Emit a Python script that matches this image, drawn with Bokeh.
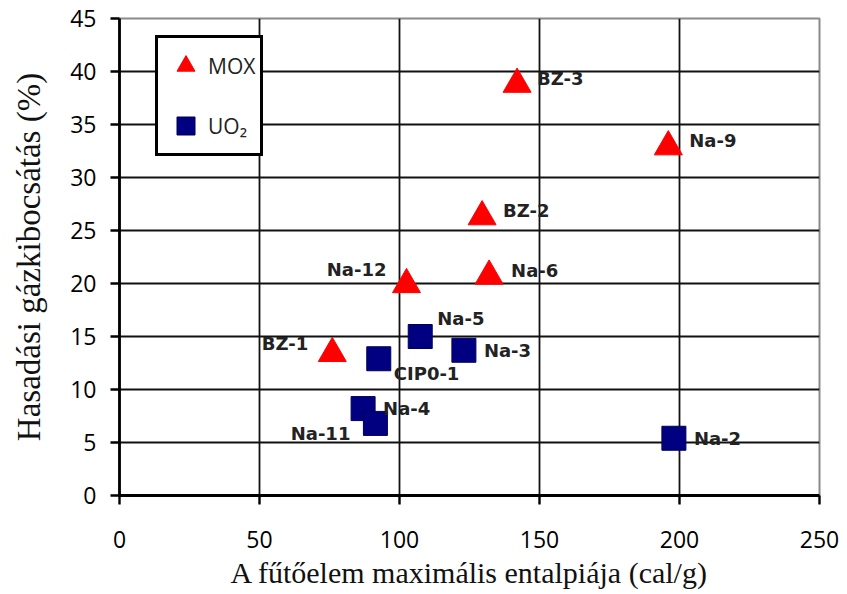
from bokeh.plotting import figure
from bokeh.models import (ColumnDataSource, Legend, LegendItem, FixedTicker,
                          Range1d, CDSView, IndexFilter)
from bokeh.embed import file_html
from bokeh.resources import INLINE
from bokeh.core.properties import value

# ---- data ----
mox_names = ["BZ-1", "Na-12", "BZ-2", "Na-6", "BZ-3", "Na-9"]
mox_enthalpy = [76, 102.5, 129.5, 132, 142, 196]
mox_fgr = [13.4, 19.9, 26.3, 20.7, 38.8, 32.9]

uo2_names = ["CIP0-1", "Na-5", "Na-3", "Na-4", "Na-11", "Na-2"]
uo2_enthalpy = [92.6, 107.4, 123, 87, 91.4, 198]
uo2_fgr = [12.9, 15.0, 13.7, 8.2, 6.8, 5.4]

x_ticks = [0, 50, 100, 150, 200, 250]
y_ticks = [0, 5, 10, 15, 20, 25, 30, 35, 40, 45]

x_title = "A fűtőelem maximális entalpiája (cal/g)"
y_title = "Hasadási gázkibocsátás (%)"

# ---- label layout (pixel offsets / alignment, not data) ----
mox_dx = [-24, -20, 21, 22, 20, 21]
mox_dy = [-10, -15, -6, -6, -6, -6]
mox_align = ["right", "right", "left", "left", "left", "left"]
uo2_dx = [15, 17, 20, 20, -25, 20]
uo2_dy = [15, -18, 0, 0, 10, 0]
uo2_align = ["left", "left", "left", "left", "right", "left"]

mox_src = ColumnDataSource(dict(x=mox_enthalpy, y=mox_fgr, name=mox_names,
                                dx=mox_dx, dy=mox_dy))
uo2_src = ColumnDataSource(dict(x=uo2_enthalpy, y=uo2_fgr, name=uo2_names,
                                dx=uo2_dx, dy=uo2_dy))

p = figure(width=847, height=594, output_backend="svg", toolbar_location=None,
           x_range=Range1d(0, 250), y_range=Range1d(0, 45),
           min_border_left=119, min_border_right=28,
           min_border_top=18, min_border_bottom=99)
p.background_fill_color = "white"
p.border_fill_color = "white"
p.outline_line_color = "#8a8a8a"
p.outline_line_width = 2

# grid
for g in (p.xgrid, p.ygrid):
    g.grid_line_color = "#111111"
    g.grid_line_width = 1.8
    g.grid_line_alpha = 1.0
p.xaxis.ticker = FixedTicker(ticks=x_ticks)
p.yaxis.ticker = FixedTicker(ticks=y_ticks)

# axes
for ax in (p.xaxis, p.yaxis):
    ax.axis_line_color = "black"
    ax.axis_line_width = 2.8
    ax.major_tick_line_color = "black"
    ax.major_tick_line_width = 2.4
    ax.major_tick_in = 0
    ax.major_tick_out = 9
    ax.minor_tick_line_color = None
    ax.major_label_text_font = "Open Sans"
    ax.major_label_text_font_size = "23px"
    ax.major_label_text_color = "#000000"
    ax.axis_label_text_font = "Liberation Serif"
    ax.axis_label_text_font_style = "normal"
    ax.axis_label_text_color = "#111111"

p.xaxis.major_label_standoff = 26
p.yaxis.major_label_standoff = 14
p.xaxis.axis_label = x_title
p.yaxis.axis_label = y_title
p.xaxis.axis_label_text_font_size = "30px"
p.yaxis.axis_label_text_font_size = "33px"
p.xaxis.axis_label_standoff = 5
p.yaxis.axis_label_standoff = 20

# markers
r_mox = p.scatter("x", "y", source=mox_src, marker="triangle", size=28,
                  fill_color="#ff0000", line_color="#ff0000", line_width=1)
r_uo2 = p.scatter("x", "y", source=uo2_src, marker="square", size=24,
                  fill_color="#000080", line_color="#00005a", line_width=1)

# point labels
label_kw = dict(text="name", x_offset="dx", y_offset="dy",
                text_font=value("DejaVu Sans"), text_font_style="bold",
                text_font_size="18px", text_color="#222222",
                text_baseline="middle")
for src, aligns in ((mox_src, mox_align), (uo2_src, uo2_align)):
    for a in ("left", "right"):
        idx = [i for i, v in enumerate(aligns) if v == a]
        if idx:
            p.text("x", "y", source=src, view=CDSView(filter=IndexFilter(idx)),
                   text_align=a, **label_kw)

# legend
legend = Legend(items=[LegendItem(label="MOX", renderers=[r_mox]),
                       LegendItem(label="UO₂", renderers=[r_uo2])],
                location=(36, 339), orientation="vertical",
                glyph_width=45, glyph_height=45, padding=5, spacing=15,
                label_standoff=-4, margin=0)
legend.label_text_font = "Open Sans"
legend.label_text_font_size = "21px"
legend.label_text_color = "#222222"
legend.border_line_color = "black"
legend.border_line_alpha = 1.0
legend.border_line_width = 3
legend.background_fill_color = "white"
legend.background_fill_alpha = 1.0
p.add_layout(legend, "center")

open("out.html", "w").write(file_html(p, INLINE))
